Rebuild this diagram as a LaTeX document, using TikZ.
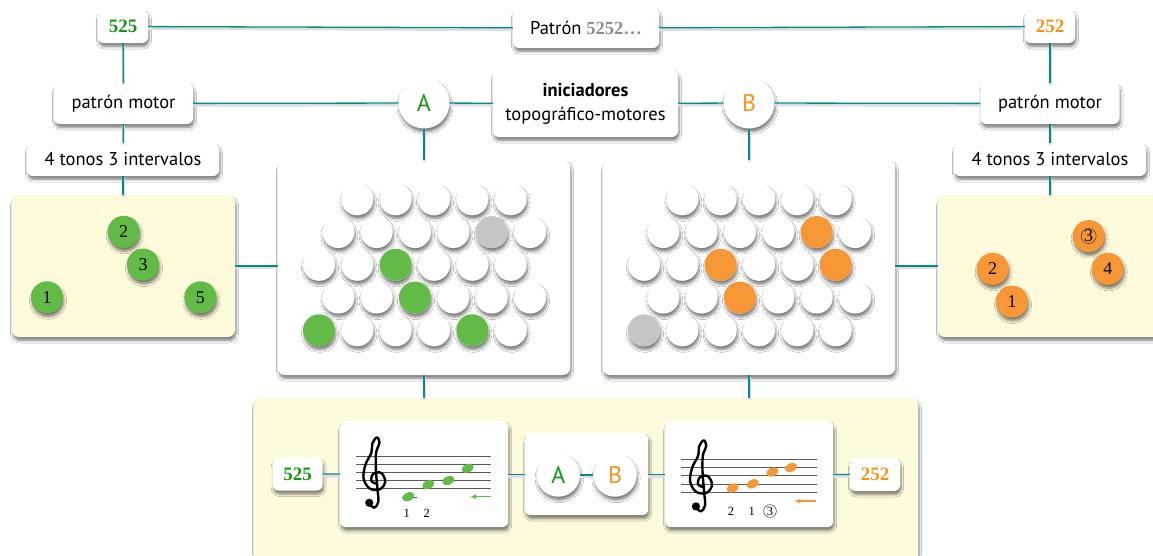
\documentclass[tikz,border=0pt]{standalone}
\usepackage{fontspec}
\setmainfont{PT Sans}
\newfontfamily\numfont{Liberation Serif}
\usetikzlibrary{shadows.blur,arrows.meta,calc}

\definecolor{linkteal}{RGB}{0,140,140}
\definecolor{greenkey}{RGB}{98,187,71}
\definecolor{orangekey}{RGB}{246,150,52}
\definecolor{greykey}{RGB}{196,198,197}
\definecolor{greytxt}{RGB}{140,140,140}
\definecolor{greentxt}{RGB}{22,150,22}
\definecolor{orangetxt}{RGB}{247,148,29}
\definecolor{paneltint}{RGB}{254,250,220}

\tikzset{
  softshadow/.style={blur shadow={shadow xshift=1pt, shadow yshift=-3.5pt, shadow blur radius=2.5pt,
    shadow blur steps=6, shadow opacity=50}},
  box/.style={rectangle, rounded corners=6pt, fill=white, softshadow, inner sep=2pt,
    font=\fontsize{18.5}{24}\selectfont},
  numbox/.style={box, minimum width=50, minimum height=33, font=\numfont\bfseries\fontsize{19}{22}\selectfont},
  panel/.style={rectangle, rounded corners=7pt, fill=paneltint, softshadow},
  keyboard/.style={rectangle, rounded corners=7pt, fill=white, softshadow, minimum width=292, minimum height=215},
  key/.style={circle, fill=white, minimum size=32, inner sep=0pt, softshadow},
  dot/.style={circle, minimum size=32, inner sep=0pt, softshadow, font=\numfont\fontsize{18}{20}\selectfont},
  ring/.style={circle, fill=white, softshadow, inner sep=0pt, font=\fontsize{24}{26}\selectfont},
  link/.style={linkteal, line width=1.3pt, preaction={draw=black!13, line width=3pt, transform canvas={yshift=-1.8pt}}},
  staffline/.style={black!65, line width=0.9pt},
  tag/.style={font=\numfont\fontsize{12.5}{14}\selectfont, inner sep=1pt},
}

% treble clef: #1,#2 = G line, #3 = staff space
\newcommand{\drawclef}[3]{%
  \begin{scope}[shift={(#1,#2)}, x=#3pt, y=-#3pt]
    \draw[line width=2.4pt, line cap=round, line join=round] plot[smooth, tension=0.6] coordinates {
      (-0.7,2.8) (-0.1,3.3) (0.4,2.6) (0.3,1.0) (0.1,-1.5) (0.15,-3.5) (0.55,-4.6) (0.25,-5.3)
      (-0.3,-4.6) (-0.45,-3.4) (-1.15,-2.0) (-1.4,-0.3) (-0.65,0.95) (0.6,1.05) (1.25,0.1)
      (0.75,-0.95) (-0.2,-0.85) (-0.45,0.0) (0.1,0.35)};
    \fill (-0.7,2.7) circle[radius=0.5];
  \end{scope}}
\newcommand{\notehead}[3]{%
  \fill[#3, rotate around={25:(#1,#2)}] (#1,#2) ellipse[x radius=6.4, y radius=4.2];}

\begin{document}
\begin{tikzpicture}[x=1pt, y=-1pt]
  \useasboundingbox (0,0) rectangle (1153,555);
  \fill[white] (0,0) rectangle (1153,555);

  % top rows
  \node[numbox, text=greentxt] (top525) at (123,26.5) {525};
  \node[box, minimum width=146, minimum height=40] (pattern) at (586,28)
    {Patrón {\numfont\bfseries\color{greytxt}5252…}};
  \node[numbox, text=orangetxt] (top252) at (1050,26.5) {252};

  \node[box, minimum width=139, minimum height=41] (motorL) at (123.5,103.5) {patrón motor};
  \node[ring, minimum size=51, text=greentxt] (initA) at (424,103) {A};
  \node[box, minimum width=185, minimum height=67, align=center] (starters) at (585.5,103.5)
    {\textbf{iniciadores}\\topográfico-motores};
  \node[ring, minimum size=51, text=orangetxt] (initB) at (749,103) {B};
  \node[box, minimum width=139, minimum height=41] (motorR) at (1050,103.5) {patrón motor};

  \node[box, minimum width=192, minimum height=33] (tonesL) at (123,159.5) {4 tonos 3 intervalos};
  \node[box, minimum width=192, minimum height=33] (tonesR) at (1050,159.5) {4 tonos 3 intervalos};

  % panels and keyboards
  \node[panel, minimum width=223, minimum height=142] (shapeL) at (123.5,266) {};
  \node[panel, minimum width=227, minimum height=142] (shapeR) at (1051.5,266) {};
  \node[keyboard] (kbA) at (424,267.5) {};
  \node[keyboard] (kbB) at (749,267.5) {};
  \node[panel, minimum width=664, minimum height=172] (lower) at (586,484) {};

  \foreach \kb/\dx in {A/0,B/325}
    \foreach \r/\xs/\n in {1/357.3/5, 2/338.3/6, 3/319/6, 4/338.3/6, 5/319/6}
      \foreach \c in {1,...,\n}
        \node[key] (k\kb-\r-\c) at ({\xs+\dx+38.35*(\c-1)}, {199.3+32.75*(\r-1)}) {};

  \foreach \k in {kA-3-3,kA-4-3,kA-5-1,kA-5-5}
    \fill[greenkey] (\k) circle[radius=16];
  \fill[greykey] (kA-2-5) circle[radius=16];
  \foreach \k in {kB-2-5,kB-3-3,kB-3-6,kB-4-3}
    \fill[orangekey] (\k) circle[radius=16];
  \fill[greykey] (kB-5-1) circle[radius=16];

  % pattern shapes
  \node[dot, fill=greenkey] (pL1) at ($(kA-5-1)+(-272,-33)$) {1};
  \node[dot, fill=greenkey] (pL2) at ($(kA-3-3)+(-272,-33)$) {2};
  \node[dot, fill=greenkey] (pL3) at ($(kA-4-3)+(-272,-33)$) {3};
  \node[dot, fill=greenkey] (pL5) at ($(kA-5-5)+(-272,-33)$) {5};
  \node[dot, fill=orangekey] (pR1) at ($(kB-4-3)+(272,4)$) {1};
  \node[dot, fill=orangekey] (pR2) at ($(kB-3-3)+(272,4)$) {2};
  \node[dot, fill=orangekey] (pR3) at ($(kB-2-5)+(272,4)$) {3};
  \node[dot, fill=orangekey] (pR4) at ($(kB-3-6)+(272,4)$) {4};
  \draw[black!80, line width=0.5pt] (pR3) circle[radius=7.5];

  % bottom row
  \node[numbox, text=greentxt] (low525) at (297.7,474) {525};
  \node[box, minimum width=168, minimum height=106] (staffA) at (424.2,474.2) {};
  \node[box, minimum width=123, minimum height=82] (pairbox) at (586.7,474.2) {};
  \node[ring, minimum size=43.4, text=greentxt] (pairA) at (558.3,475) {A};
  \node[ring, minimum size=43.4, text=orangetxt] (pairB) at (615,475) {B};
  \node[box, minimum width=168, minimum height=106] (staffB) at (749.2,474.2) {};
  \node[numbox, text=orangetxt] (low252) at (875,474.5) {252};

  % staff A
  \foreach \y in {0,...,4}
    \draw[staffline] (356,{456+8.18*\y}) -- (491.3,{456+8.18*\y});
  \draw[staffline] (401.5,497) -- (416.5,497);
  \drawclef{375}{480.7}{8.18}
  \notehead{408.3}{496.8}{greenkey}
  \notehead{428.3}{484.6}{greenkey}
  \notehead{448.3}{480.6}{greenkey}
  \notehead{467.7}{468.3}{greenkey}
  \node[tag] (numA1) at (406.7,513.5) {1};
  \node[tag] (numA2) at (426.7,513.5) {2};
  \draw[greenkey, line width=1.2pt, -{Latex[length=6pt,width=5pt]}] (491.3,496.7) -- (470,496.7);

  % staff B
  \foreach \y in {0,...,4}
    \draw[staffline] (681,{459.3+8.25*\y}) -- (816.7,{459.3+8.25*\y});
  \drawclef{701.7}{484.1}{8.25}
  \notehead{732.7}{488.0}{orangekey}
  \notehead{752.7}{483.8}{orangekey}
  \notehead{772.3}{472.0}{orangekey}
  \notehead{791.0}{467.5}{orangekey}
  \node[tag] (numB2) at (731,511) {2};
  \node[tag] (numB1) at (751.7,511) {1};
  \node[tag, draw, circle, line width=0.4pt, inner sep=0.8pt] (numB3) at (770,511) {3};
  \draw[orangekey, line width=1.2pt, -{Latex[length=6pt,width=5pt]}] (816,501) -- (794.3,501);

  % connectors
  \draw[link] (top525) -- (pattern);
  \draw[link] (pattern) -- (top252);
  \draw[link] (top525) -- (motorL);
  \draw[link] (motorL) -- (tonesL);
  \draw[link] (tonesL) -- (tonesL |- shapeL.north);
  \draw[link] (top252) -- (motorR);
  \draw[link] (motorR) -- (tonesR);
  \draw[link] (tonesR) -- (tonesR |- shapeR.north);
  \draw[link] (motorL) -- (initA);
  \draw[link] (initA) -- (starters);
  \draw[link] (starters) -- (initB);
  \draw[link] (initB) -- (motorR);
  \draw[link] (initA) -- (kbA);
  \draw[link] (initB) -- (kbB);
  \draw[link] (shapeL.east) -- (shapeL.east -| kbA.west);
  \draw[link] (kbB.east |- shapeR.west) -- (shapeR.west);
  \draw[link] (kbA) -- (kbA |- lower.north);
  \draw[link] (kbB) -- (kbB |- lower.north);
  \draw[link] (low525) -- (staffA);
  \draw[link] (staffA) -- (pairbox);
  \draw[link] (pairA) -- (pairB);
  \draw[link] (pairbox) -- (staffB);
  \draw[link] (staffB) -- (low252);
\end{tikzpicture}
\end{document}
